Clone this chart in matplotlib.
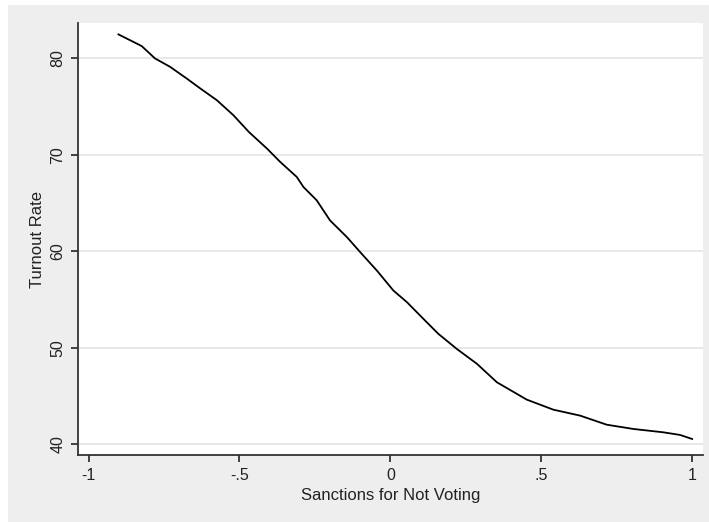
import matplotlib
matplotlib.use("Agg")
import matplotlib.pyplot as plt
from matplotlib.patches import Rectangle

plt.rcParams['font.family'] = ['Liberation Sans', 'DejaVu Sans']

sanctions = [-0.901, -0.824, -0.780, -0.730, -0.675, -0.630, -0.575, -0.520, -0.469,
             -0.409, -0.365, -0.310, -0.288, -0.244, -0.200, -0.144, -0.100, -0.045,
             0.010, 0.055, 0.115, 0.159, 0.220, 0.287, 0.353, 0.452, 0.540, 0.629,
             0.717, 0.805, 0.905, 0.960, 1.000]
turnout = [82.49, 81.28, 80.00, 79.13, 77.92, 76.89, 75.67, 74.11, 72.38,
           70.66, 69.27, 67.71, 66.67, 65.29, 63.21, 61.48, 59.92, 58.02,
           55.94, 54.73, 52.83, 51.45, 49.89, 48.34, 46.43, 44.63, 43.59, 42.97,
           42.03, 41.59, 41.24, 40.97, 40.55]
xticks = [-1, -0.5, 0, 0.5, 1]
xticklabels = ['-1', '-.5', '0', '.5', '1']
yticks = [40, 50, 60, 70, 80]
yticklabels = ['40', '50', '60', '70', '80']

W, H = 709, 522
fig = plt.figure(figsize=(W / 100, H / 100), dpi=100)
fig.patch.set_facecolor('white')
bg = Rectangle((8 / W, 0), 1 - 8 / W, (H - 5) / H,
               transform=fig.transFigure, facecolor='#eeeeee',
               edgecolor='none', zorder=-10)
fig.patches.append(bg)

ax = fig.add_axes([78 / W, (H - 455) / H, (703 - 78) / W, (455 - 23) / H])
ax.set_zorder(1)
ax.set_facecolor('white')
ax.plot(sanctions, turnout, color='black', lw=1.3, zorder=3)

ax.set_xlim(-1.035, 1.036)
ax.set_ylim(38.89, 83.67)
ax.set_xticks(xticks)
ax.set_xticklabels(xticklabels, fontsize=11.5, color='#222222')
ax.set_yticks(yticks)
ax.set_yticklabels(yticklabels, fontsize=11.5, color='#222222', rotation=90, va='center')
ax.yaxis.grid(True, color='#e8e8e8', lw=1.4)
ax.set_axisbelow(True)
for s in ['top', 'right']:
    ax.spines[s].set_visible(False)
for s in ['left', 'bottom']:
    ax.spines[s].set_color('#333333')
    ax.spines[s].set_linewidth(1.3)
ax.tick_params(axis='both', length=5, width=1.3, color='#333333')
ax.tick_params(axis='x', pad=4)
ax.tick_params(axis='y', pad=4)

ax.set_xlabel('Sanctions for Not Voting', fontsize=12, color='#222222', labelpad=4)
ax.set_ylabel('Turnout Rate', fontsize=12, color='#222222', labelpad=4)

fig.savefig('out.png', dpi=100, facecolor=fig.get_facecolor())
